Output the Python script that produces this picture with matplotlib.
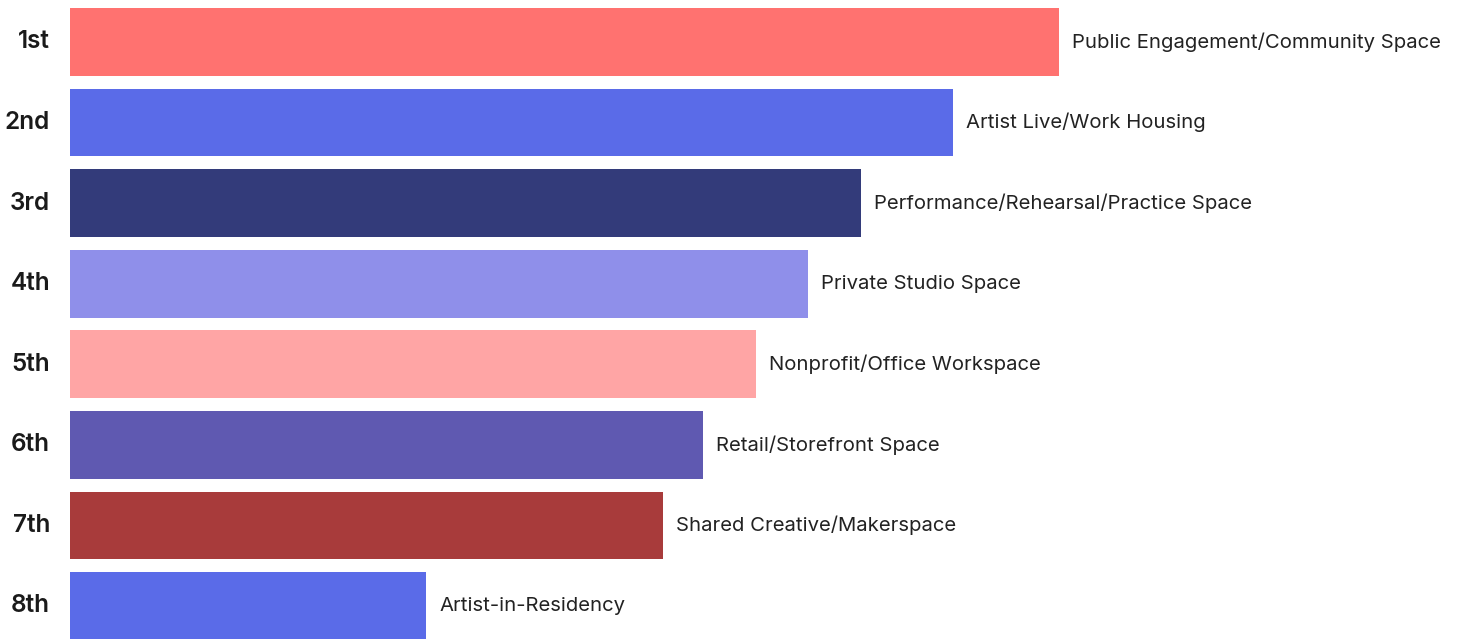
import matplotlib.pyplot as plt

ranks = ["1st", "2nd", "3rd", "4th", "5th", "6th", "7th", "8th"]
spaces = [
    "Public Engagement/Community Space",
    "Artist Live/Work Housing",
    "Performance/Rehearsal/Practice Space",
    "Private Studio Space",
    "Nonprofit/Office Workspace",
    "Retail/Storefront Space",
    "Shared Creative/Makerspace",
    "Artist-in-Residency",
]
scores = [989, 883, 791, 738, 686, 633, 593, 356]
colors = ["#FF7270", "#5A6BE8", "#333B7A", "#8F8FEA", "#FFA5A5", "#5F59B1", "#A83B3B", "#5A6BE8"]

plt.rcParams["font.family"] = ["Inter", "DejaVu Sans"]

fig = plt.figure(figsize=(14.58, 6.39), dpi=100)
ax = fig.add_axes([0, 0, 1, 1])

pos = list(range(len(ranks)))
ax.barh(pos, scores, height=0.84, color=colors, left=0)

for y, s, name, rank in zip(pos, scores, spaces, ranks):
    ax.text(s + 13, y, name, va="center", ha="left", fontsize=14.6, color="#222222")
    ax.text(-20, y, rank, va="center", ha="right", fontsize=17.5, fontweight="semibold", color="#1a1a1a")

ax.set_xlim(-70, 1388)
ax.set_ylim(7.41, -0.521)
ax.axis("off")

fig.savefig("out.png", dpi=100)
